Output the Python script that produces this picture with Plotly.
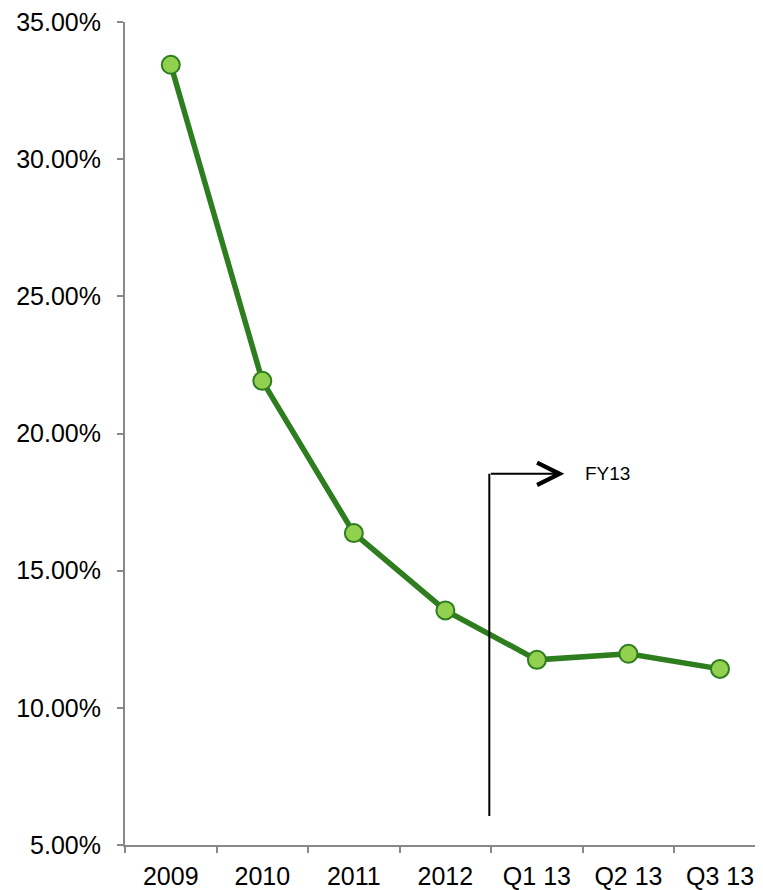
import plotly.graph_objects as go

categories = ["2009", "2010", "2011", "2012", "Q1 13", "Q2 13", "Q3 13"]
values = [0.3344, 0.2192, 0.1637, 0.1355, 0.1175, 0.1197, 0.1142]

marker_x = 3.48
marker_y_bottom = 0.0606
marker_y_top = 0.1853
arrow_end_x = 4.30
fy_label = "FY13"
fy_label_x = 4.50

fig = go.Figure()
fig.add_trace(go.Scatter(
    x=categories, y=values, mode="lines+markers",
    line=dict(color="#2E7D1E", width=5.5),
    marker=dict(size=18, color="#92D050", line=dict(color="#2E7D1E", width=2)),
    showlegend=False, cliponaxis=False,
))

fig.add_shape(type="line", x0=marker_x, x1=marker_x, y0=marker_y_bottom, y1=marker_y_top,
              xref="x", yref="y", line=dict(color="black", width=2))
fig.add_annotation(x=arrow_end_x, y=marker_y_top, ax=marker_x, ay=marker_y_top,
                   xref="x", yref="y", axref="x", ayref="y", text="",
                   showarrow=True, arrowhead=5, arrowsize=2.2, arrowwidth=2, arrowcolor="black")
fig.add_annotation(x=fy_label_x, y=marker_y_top, xref="x", yref="y", text=fy_label,
                   showarrow=False, xanchor="left", yanchor="middle",
                   font=dict(family="Liberation Sans, Arial", size=19, color="black"))

fig.update_layout(
    width=755, height=882,
    margin=dict(l=117, r=0, t=10, b=44),
    plot_bgcolor="white", paper_bgcolor="white",
    font=dict(family="Liberation Sans, Arial", size=25, color="black"),
)
fig.update_xaxes(
    type="category", range=[-0.5, 6.47],
    showgrid=False, zeroline=False,
    showline=True, linecolor="#888888", linewidth=2,
    ticks="outside", ticklen=6, tickcolor="#888888", tickwidth=2,
    tickson="boundaries", ticklabelstandoff=8, ticklabeloverflow="allow",
)
fig.update_yaxes(
    range=[0.05, 0.35], dtick=0.05, tick0=0.05, tickformat=".2%",
    showgrid=False, zeroline=False,
    showline=True, linecolor="#888888", linewidth=2,
    ticks="outside", ticklen=6, tickcolor="#888888", tickwidth=2,
    ticklabelstandoff=11, ticklabeloverflow="allow",
)

fig.write_html("out.html")
